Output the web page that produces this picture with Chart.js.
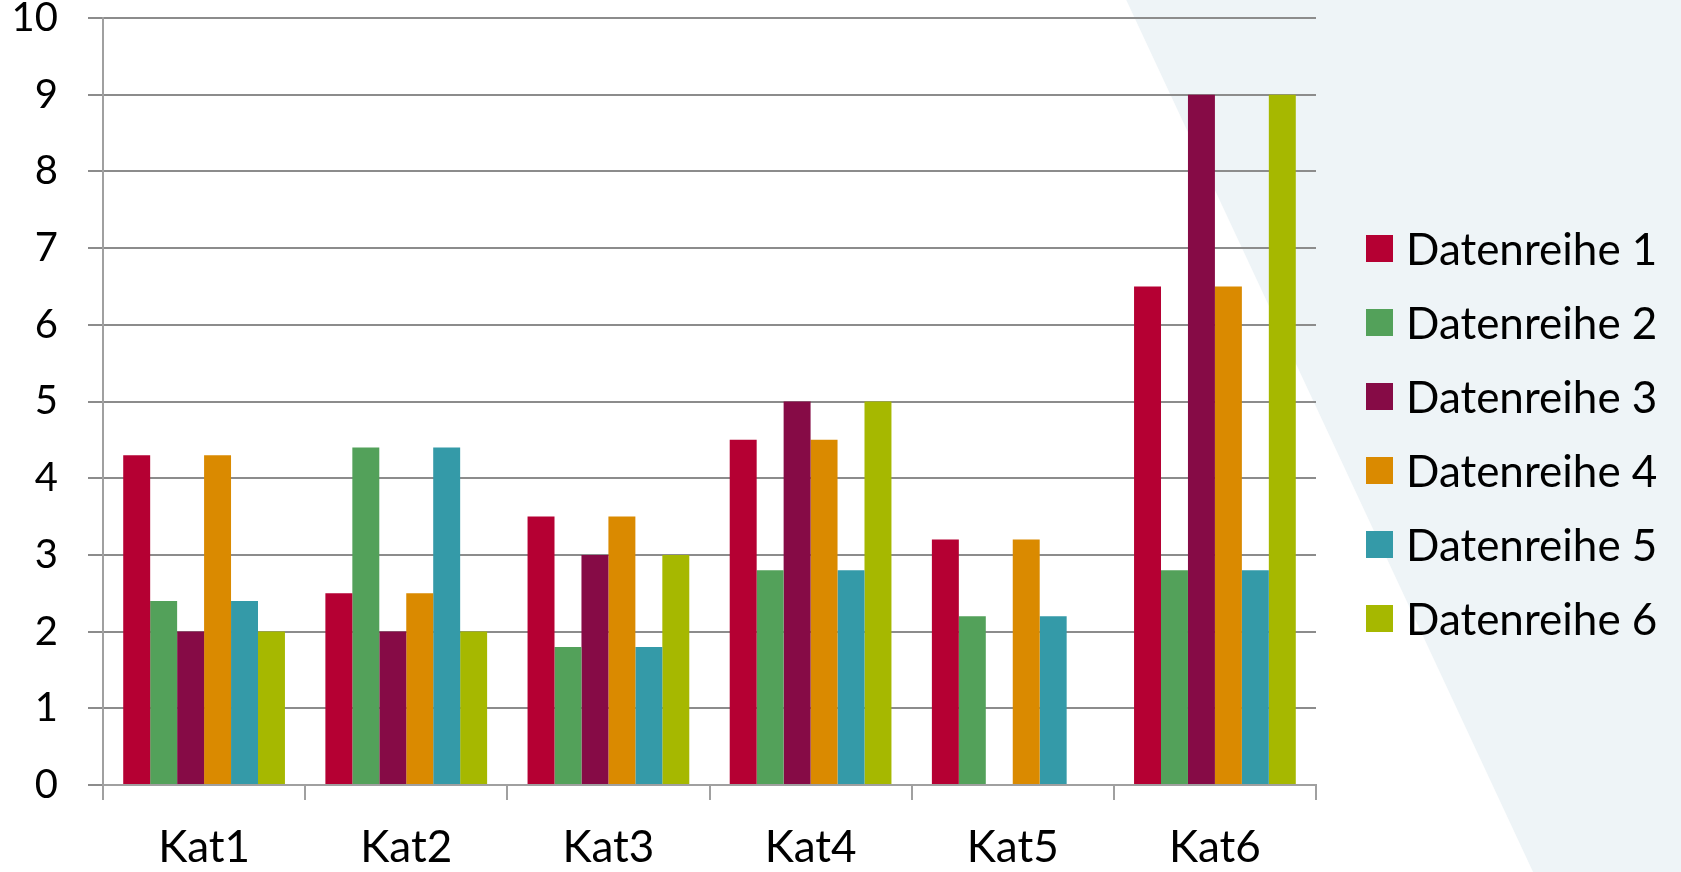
<!DOCTYPE html>
<html lang="de">
<head>
    <meta charset="UTF-8">
    <title>Datenreihen nach Kategorie</title>
    <script src="https://cdn.jsdelivr.net/npm/chart.js"></script>
    <style>
        body {
            margin: 0;
            background: #fff;
            font-family: Lato, sans-serif;
        }

        .wrap {
            position: relative;
            width: 1681px;
            height: 872px;
        }

        /* Legende rechts, als HTML */
        #legende {
            position: absolute;
            left: 1366px;
            top: 0;
        }

        .eintrag {
            position: absolute;
            left: 0;
            height: 74px;
            display: flex;
            align-items: center;
            white-space: nowrap;
            font-size: 44px;
            color: #000;
        }

        .kasten {
            width: 27px;
            height: 27px;
            margin-right: 13px;
        }
    </style>
</head>
<body>

    <div class="wrap">
        <canvas id="balken" width="1681" height="872"></canvas>
        <div id="legende"></div>
    </div>

    <script>
        // Daten
        var kategorien = ['Kat1', 'Kat2', 'Kat3', 'Kat4', 'Kat5', 'Kat6'];
        var reihe1 = [4.3, 2.5, 3.5, 4.5, 3.2, 6.5];
        var reihe2 = [2.4, 4.4, 1.8, 2.8, 2.2, 2.8];
        var reihe3 = [2, 2, 3, 5, null, 9];
        var reihe4 = [4.3, 2.5, 3.5, 4.5, 3.2, 6.5];
        var reihe5 = [2.4, 4.4, 1.8, 2.8, 2.2, 2.8];
        var reihe6 = [2, 2, 3, 5, null, 9];
        var namen = ['Datenreihe 1', 'Datenreihe 2', 'Datenreihe 3', 'Datenreihe 4', 'Datenreihe 5', 'Datenreihe 6'];
        var farben = ['#b50033', '#53a15a', '#860b46', '#da8a00', '#349aa8', '#a6b800'];
        var yMin = 0, yMax = 10, ySchritt = 1;

        var werte = [reihe1, reihe2, reihe3, reihe4, reihe5, reihe6];

        // heller Hintergrundkeil rechts
        var hintergrund = {
            id: 'hintergrund',
            beforeDraw: function (chart) {
                var ctx = chart.ctx, w = chart.width, h = chart.height;
                ctx.save();
                ctx.fillStyle = '#fff';
                ctx.fillRect(0, 0, w, h);
                ctx.fillStyle = '#eef4f7';
                ctx.beginPath();
                ctx.moveTo(w * 0.67, 0);
                ctx.lineTo(w, 0);
                ctx.lineTo(w, h);
                ctx.lineTo(w * 0.912, h);
                ctx.closePath();
                ctx.fill();
                ctx.restore();
            }
        };

        var ctx1 = document.getElementById('balken').getContext('2d');
        var balken = new Chart(ctx1, {
            type: 'bar',
            data: {
                labels: kategorien,
                datasets: werte.map(function (d, i) {
                    return {
                        label: namen[i],
                        data: d,
                        backgroundColor: farben[i],
                        borderWidth: 0,
                        categoryPercentage: 0.8,
                        barPercentage: 1.0
                    };
                })
            },
            options: {
                responsive: false,
                animation: false,
                layout: {
                    padding: { top: 18, right: 365, left: 0, bottom: 0 }
                },
                plugins: {
                    legend: { display: false },
                    tooltip: { enabled: false }
                },
                scales: {
                    x: {
                        grid: {
                            offset: true,
                            drawOnChartArea: false,
                            drawTicks: true,
                            tickLength: 15,
                            color: '#a0a0a0',
                            lineWidth: 2
                        },
                        border: { color: '#a0a0a0', width: 2 },
                        ticks: {
                            color: '#000',
                            padding: 21,
                            font: { family: 'Lato', size: 44 }
                        },
                        afterFit: function (s) { s.height = 87; }
                    },
                    y: {
                        min: yMin,
                        max: yMax,
                        grid: {
                            color: '#8c8c8c',
                            lineWidth: 2,
                            tickLength: 15
                        },
                        border: { color: '#a0a0a0', width: 2 },
                        ticks: {
                            stepSize: ySchritt,
                            color: '#000',
                            padding: 30,
                            font: { family: 'Lato', size: 40, lineHeight: 0.9 }
                        },
                        afterFit: function (s) {
                            s.width = 103;
                            s.paddingTop = 0;
                            s.paddingBottom = 0;
                        }
                    }
                }
            },
            plugins: [hintergrund]
        });

        // Legende aufbauen
        var legende = document.getElementById('legende');
        namen.forEach(function (n, i) {
            var zeile = document.createElement('div');
            zeile.className = 'eintrag';
            zeile.style.top = (211 + i * 74) + 'px';
            var k = document.createElement('span');
            k.className = 'kasten';
            k.style.background = farben[i];
            var t = document.createElement('span');
            t.textContent = n;
            zeile.appendChild(k);
            zeile.appendChild(t);
            legende.appendChild(zeile);
        });
    </script>

</body>
</html>
